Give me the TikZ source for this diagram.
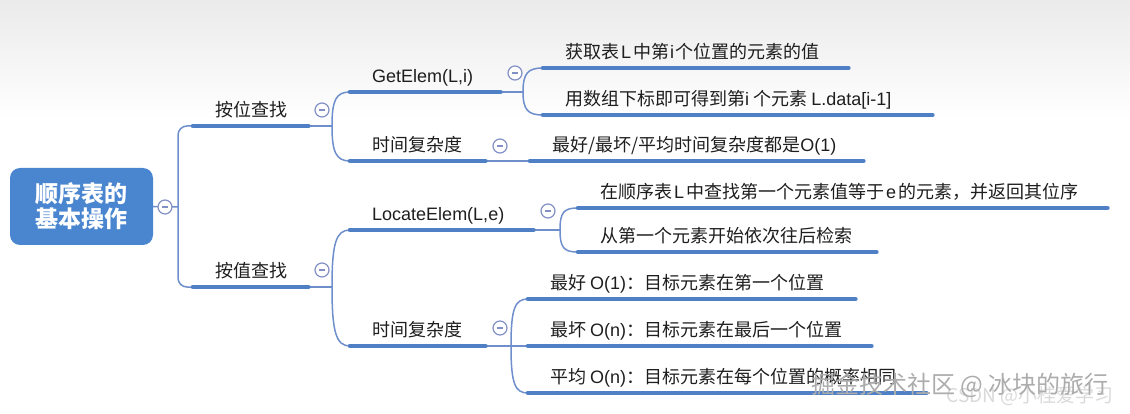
\documentclass[tikz,border=0pt]{standalone}
\usepackage{fontspec}
\setmainfont{Noto Sans CJK SC}
\newfontfamily\lat{Liberation Sans}
\usetikzlibrary{calc}
\definecolor{thickc}{HTML}{4F7FC5}
\definecolor{thinc}{HTML}{6E8FCC}
\definecolor{rootc}{HTML}{4A86D0}
\definecolor{circc}{HTML}{8290C6}
\definecolor{txtc}{HTML}{1E1E1E}
\newcommand{\lbx}[2]{\makebox[#1][l]{#2}}
\begin{document}
\begin{tikzpicture}[x=1pt,y=-1pt,
  topic/.style={anchor=south west, inner xsep=22pt, inner ysep=0pt,
    text height=13pt, text depth=9.4pt, font=\fontsize{18}{20}\selectfont, text=txtc},
  uline/.style={draw=thickc, line width=4.6pt, line cap=round},
  conn/.style={draw=thinc, line width=1.5pt},
  rootbox/.style={rounded corners=10pt, fill=rootc, minimum width=143pt, minimum height=77pt,
    text=white, font=\fontsize{23}{25}\selectfont\bfseries, align=center, inner sep=0pt},
  fold/.style={circle, draw=circc, line width=1.2pt, fill=white, minimum size=14pt, inner sep=0pt,
    path picture={\draw[circc, line width=1.2pt]
      ([xshift=-3.4pt]path picture bounding box.center) -- ([xshift=3.4pt]path picture bounding box.center);}},
  wmark/.style={font=\fontsize{24}{26}\selectfont, text=gray!65, inner sep=0pt},
  wmark2/.style={font=\fontsize{19}{21}\selectfont, text=gray!30, inner sep=0pt},
]
\useasboundingbox (0,0) rectangle (1130,414);
\shade[top color=gray!16, bottom color=white] (0,0) rectangle (1130,120);

% root
\node[rootbox] (root) at (81.5,206.5) {顺序表的\\基本操作};

% level 1
\node[topic] (p1) at (193,126) {\lbx{71pt}{按位查找}};
\node[topic] (p2) at (193,287) {\lbx{71pt}{按值查找}};

% level 2
\node[topic] (g)  at (350,92)  {\lbx{106pt}{{\lat GetElem(L,i)}}};
\node[topic] (t1) at (350,161) {\lbx{91pt}{时间复杂度}};
\node[topic] (l)  at (350,230) {\lbx{139pt}{{\lat LocateElem(L,e)}}};
\node[topic] (t2) at (350,346) {\lbx{91pt}{时间复杂度}};

% level 3
\node[topic] (g1) at (543,68)  {\lbx{261pt}{获取表\hspace{2pt}{\lat L}\hspace{2pt}中第\hspace{1pt}{\lat i}\hspace{1pt}个位置的元素的值}};
\node[topic] (g2) at (543,115) {\lbx{345pt}{用数组下标即可得到第{\lat i} 个元素 {\lat L.data[i-1]}}};
\node[topic] (o1) at (530,161) {\lbx{289pt}{最好/最坏/平均时间复杂度都是{\lat O(1)}}};
\node[topic] (l1) at (578,208) {\lbx{485pt}{在顺序表\hspace{2pt}{\lat L}\hspace{2pt}中查找第一个元素值等于\hspace{2pt}{\lat e}\hspace{2pt}的元素，并返回其位序}};
\node[topic] (l2) at (578,252) {\lbx{254pt}{从第一个元素开始依次往后检索}};
\node[topic] (b1) at (528,299) {\lbx{283pt}{最好 {\lat O(1)}：目标元素在第一个位置}};
\node[topic] (b2) at (528,346) {\lbx{299pt}{最坏 {\lat O(n)}：目标元素在最后一个位置}};
\node[topic] (b3) at (528,393) {\lbx{354pt}{平均 {\lat O(n)}：目标元素在每个位置的概率相同}};

% branch points
\coordinate (tr)  at (178,207);
\coordinate (bp1) at (332,126);
\coordinate (bp2) at (332,287);
\coordinate (bg)  at (523,92);
\coordinate (bl)  at (560,230);
\coordinate (bt2) at (511,346);

% connectors
\draw[conn] (root.east) -- (tr);
\draw[conn, rounded corners=9pt] (tr) |- (p1.south west);
\draw[conn, rounded corners=9pt] (tr) |- (p2.south west);

\draw[conn] (p1.south east) -- (bp1);
\draw[conn] (bp1) .. controls +(0,-26) and +(-14,0) .. (g.south west);
\draw[conn] (bp1) .. controls +(0,26) and +(-14,0) .. (t1.south west);

\draw[conn] (p2.south east) -- (bp2);
\draw[conn] (bp2) .. controls +(0,-44) and +(-14,0) .. (l.south west);
\draw[conn] (bp2) .. controls +(0,45) and +(-14,0) .. (t2.south west);

\draw[conn] (g.south east) -- (bg);
\draw[conn] (bg) .. controls +(0,-19) and +(-15,0) .. (g1.south west);
\draw[conn] (bg) .. controls +(0,18) and +(-15,0) .. (g2.south west);

\draw[conn] (t1.south east) -- (o1.south west);

\draw[conn] (l.south east) -- (bl);
\draw[conn] (bl) .. controls +(0,-18) and +(-14,0) .. (l1.south west);
\draw[conn] (bl) .. controls +(0,18) and +(-14,0) .. (l2.south west);

\draw[conn] (t2.south east) -- (b2.south west);
\draw[conn] (bt2) .. controls +(0,-38) and +(-13,0) .. (b1.south west);
\draw[conn] (bt2) .. controls +(0,38) and +(-13,0) .. (b3.south west);

% underlines
\foreach \n in {p1,p2,g,t1,l,t2,g1,g2,o1,l1,l2,b1,b2,b3}
  \draw[uline] (\n.south west) -- (\n.south east);

% fold markers
\node[fold] (c0) at (165,207) {};
\node[fold] (cp1) at (322,110) {};
\node[fold] (cp2) at (322,270) {};
\node[fold] (cg) at (515,73) {};
\node[fold] (ct1) at (500,146) {};
\node[fold] (cl) at (548,211) {};
\node[fold] (ct2) at (500,328) {};

% watermarks
\node[wmark2] (wm2) at (1030,396) {CSDN @小桂爱学习};
\node[wmark] (wm) at (960,385) {掘金技术社区 @ 冰块的旅行};
\end{tikzpicture}
\end{document}
